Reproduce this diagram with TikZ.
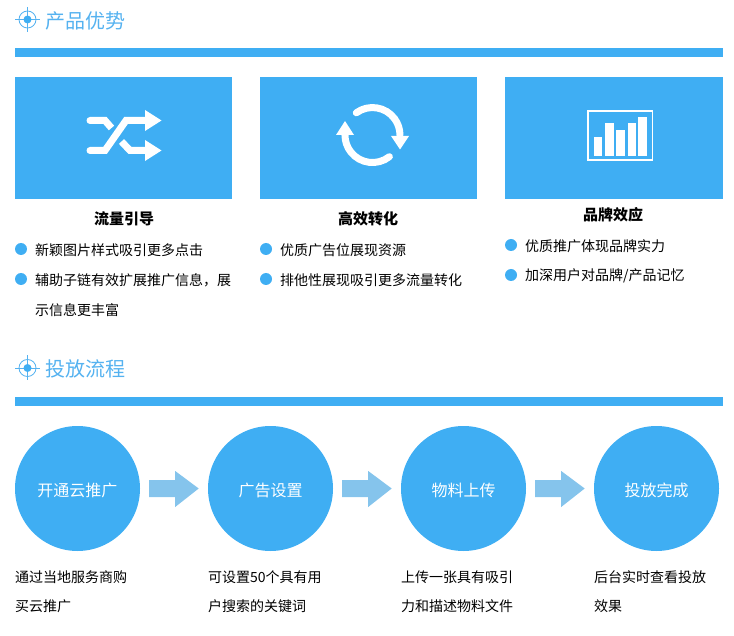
\documentclass[tikz,border=0pt]{standalone}
\usepackage{fontspec}
\usepackage{tikz}
\setmainfont{Noto Sans CJK SC}
\definecolor{skyblue}{HTML}{3FAEF3}
\definecolor{paleblue}{HTML}{85C4EC}
\definecolor{headblue}{HTML}{55B2F0}
\tikzset{
  panel/.style={fill=skyblue, draw=none, inner sep=0pt, minimum height=122pt, anchor=north west},
  heading/.style={anchor=west, inner sep=0pt, text=headblue, font=\fontsize{20}{20}\selectfont},
  title/.style={inner sep=0pt, text=black, font=\fontsize{15}{15}\selectfont\bfseries},
  body/.style={anchor=west, inner sep=0pt, text=black, font=\fontsize{14}{14}\selectfont},
  bullet/.style={circle, fill=skyblue, inner sep=0pt, minimum size=12pt},
  stage/.style={circle, fill=skyblue, inner sep=0pt, minimum size=125pt, text=white, text height=17pt, text depth=2pt, font=\fontsize{16}{16}\selectfont},
  flowarrow/.style={fill=paleblue},
  iconline/.style={draw=white, line width=7pt, line cap=butt},
  targetline/.style={draw=headblue, line width=0.8pt}
}
\begin{document}
\begin{tikzpicture}[x=1pt, y=-1pt]
\newcommand\FlowArrow{+(0,-8.5) -- +(26,-8.5) -- +(26,-17.5) -- +(49.5,0) -- +(26,18.5) -- +(26,8.5) -- +(0,8.5) -- cycle}
\useasboundingbox (0,0) rectangle (734,636);
% first section
\draw[targetline] (15,19.5) -- (40,19.5);
\draw[targetline] (27.5,7) -- (27.5,32);
\draw[targetline] (27.5,19.5) circle (8.5pt);
\fill[skyblue] (27.5,19.5) circle (4pt);
\node[heading] (advantage) at (45,21) {产品优势};
\fill[skyblue] (15,48) rectangle (723,57);

\node[panel, minimum width=217pt] (traffic) at (15,77) {};
\node[panel, minimum width=217pt] (convert) at (260,77) {};
\node[panel, minimum width=218pt] (brand) at (505,77) {};

% shuffle icon
\draw[iconline] (146,120.5) -- (126,120.5) -- (105,150.5) -- (90,150.5);
\draw[iconline] (90,120.5) -- (105,120.5) -- (111.5,128);
\draw[iconline] (121.5,141.5) -- (130,150.5) -- (146,150.5);
\fill[white] (90,120.5) circle (3.5pt);
\fill[white] (90,150.5) circle (3.5pt);
\fill[white] (145,110) -- (161.5,120.5) -- (145,131) -- cycle;
\fill[white] (145,140) -- (161.5,150.5) -- (145,161) -- cycle;

% refresh icon
\draw[iconline, line cap=round] (356.3,112.8) arc (-126:0:27.5);
\draw[iconline, line cap=round] (389.4,156.7) arc (52:180:27.5);
\fill[white] (391,136) -- (409,136) -- (400,149.5) -- cycle;
\fill[white] (336,135) -- (354,135) -- (345,121) -- cycle;

% chart icon
\draw[white, line width=1.3pt] (588,111) rectangle (652.5,160);
\fill[white] (594,137) rectangle (602.3,156.3);
\fill[white] (605.3,123.3) rectangle (613.7,156.3);
\fill[white] (616.3,130.3) rectangle (624.7,156.3);
\fill[white] (627.7,123.3) rectangle (636,156.3);
\fill[white] (638.3,117) rectangle (647,156.3);

\node[title] (trafficname) at (124,219) {流量引导};
\node[bullet] (dotA) at (21,249) {};
\node[body] (lineA) at (35,250) {新颖图片样式吸引更多点击};
\node[bullet] (dotB) at (21,279) {};
\node[body] (lineB) at (35,280) {辅助子链有效扩展推广信息，展};
\node[body] (lineC) at (35,310) {示信息更丰富};

\node[title] (convertname) at (368,219) {高效转化};
\node[bullet] (dotD) at (266,249) {};
\node[body] (lineD) at (280,250) {优质广告位展现资源};
\node[bullet] (dotE) at (266,279) {};
\node[body] (lineE) at (280,280) {排他性展现吸引更多流量转化};

\node[title] (brandname) at (613,215) {品牌效应};
\node[bullet] (dotF) at (511,245) {};
\node[body] (lineF) at (525,246) {优质推广体现品牌实力};
\node[bullet] (dotG) at (511,275) {};
\node[body] (lineG) at (525,276) {加深用户对品牌/产品记忆};

% second section
\draw[targetline] (15,368) -- (40,368);
\draw[targetline] (27.5,355.5) -- (27.5,380.5);
\draw[targetline] (27.5,368) circle (8.5pt);
\fill[skyblue] (27.5,368) circle (4pt);
\node[heading] (process) at (45,369) {投放流程};
\fill[skyblue] (15,397) rectangle (723,406);

\node[stage] (open) at (77.5,488.5) {开通云推广};
\node[stage] (setup) at (270.5,488.5) {广告设置};
\node[stage] (upload) at (463.5,488.5) {物料上传};
\node[stage] (finish) at (656.5,488.5) {投放完成};
\fill[flowarrow] ([xshift=9pt]open.east) \FlowArrow;
\fill[flowarrow] ([xshift=9pt]setup.east) \FlowArrow;
\fill[flowarrow] ([xshift=9pt]upload.east) \FlowArrow;

\node[body] (openA) at (15,577) {通过当地服务商购};
\node[body] (openB) at (15,606) {买云推广};
\node[body] (setupA) at (208,577) {可设置50个具有用};
\node[body] (setupB) at (208,606) {户搜索的关键词};
\node[body] (uploadA) at (401,577) {上传一张具有吸引};
\node[body] (uploadB) at (401,606) {力和描述物料文件};
\node[body] (finishA) at (594,577) {后台实时查看投放};
\node[body] (finishB) at (594,606) {效果};
\end{tikzpicture}
\end{document}
